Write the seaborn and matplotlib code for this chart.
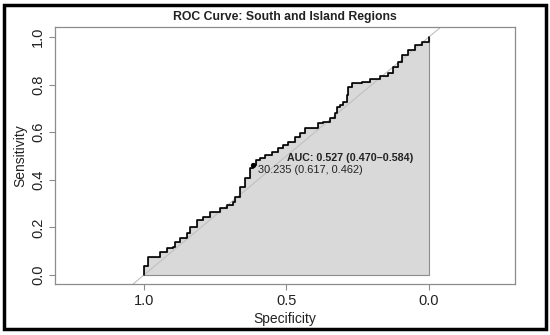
import matplotlib
matplotlib.use("Agg")
import matplotlib.pyplot as plt
import seaborn as sns
import pandas as pd
from matplotlib.patches import Rectangle

sns.set_style("white")
plt.rcParams['font.family'] = ['Liberation Sans', 'DejaVu Sans']

# ROC curve points (specificity decreasing)
specificity = [1.0, 1.0, 0.986, 0.986, 0.968, 0.944, 0.919, 0.898, 0.891, 0.874,
               0.849, 0.839, 0.814, 0.793, 0.768, 0.733, 0.709, 0.688, 0.681, 0.663,
               0.646, 0.628, 0.617, 0.607, 0.593, 0.575, 0.551, 0.530, 0.512, 0.495,
               0.470, 0.453, 0.435, 0.407, 0.389, 0.372, 0.347, 0.330, 0.323, 0.312,
               0.302, 0.288, 0.284, 0.270, 0.235, 0.207, 0.172, 0.144, 0.126, 0.109,
               0.095, 0.074, 0.049, 0.025, 0.0]
sensitivity = [0.0, 0.038, 0.038, 0.076, 0.076, 0.097, 0.113, 0.118, 0.139, 0.155,
               0.176, 0.202, 0.231, 0.244, 0.265, 0.282, 0.294, 0.307, 0.328, 0.370,
               0.408, 0.450, 0.462, 0.483, 0.492, 0.504, 0.517, 0.534, 0.546, 0.559,
               0.580, 0.597, 0.618, 0.618, 0.639, 0.643, 0.660, 0.681, 0.706, 0.714,
               0.727, 0.756, 0.790, 0.807, 0.811, 0.824, 0.836, 0.849, 0.874, 0.895,
               0.924, 0.945, 0.966, 0.979, 1.0]

best_threshold = 30.235
best_spec = 0.617
best_sens = 0.462
auc_value = 0.527
auc_ci = (0.470, 0.584)

x_ticks = [1.0, 0.5, 0.0]
y_ticks = [0.0, 0.2, 0.4, 0.6, 0.8, 1.0]

df = pd.DataFrame({"Specificity": specificity, "Sensitivity": sensitivity})

fig = plt.figure(figsize=(5.5, 3.35), dpi=100)
ax = fig.add_axes([0.1, 0.152, 0.836, 0.767])

ax.fill_between(df["Specificity"], df["Sensitivity"], 0, step="post",
                facecolor="#d9d9d9", edgecolor="#8c8c8c", linewidth=0.8, zorder=1)
ax.axline((1, 0), (0, 1), color="#c0c0c0", linewidth=0.8, zorder=2)
sns.lineplot(data=df, x="Specificity", y="Sensitivity", sort=False, estimator=None,
             drawstyle="steps-post", color="black", linewidth=1.2, ax=ax, zorder=3)
ax.plot([best_spec], [best_sens], "o", color="black", markersize=2.8, zorder=4)

ax.text(best_spec - 0.017, best_sens - 0.02,
        f"{best_threshold:.3f} ({best_spec:.3f}, {best_sens:.3f})",
        fontsize=7.9, color="#222222", ha="left", va="center", zorder=5)
ax.text(0.498, 0.49,
        f"AUC: {auc_value:.3f} ({auc_ci[0]:.3f}\u2013{auc_ci[1]:.3f})",
        fontsize=7.7, fontweight="bold", color="#222222", ha="left", va="center", zorder=5)

ax.set_xlim(1.312, -0.302)
ax.set_ylim(-0.038, 1.042)
ax.set_xticks(x_ticks)
ax.set_xticklabels([f"{v:.1f}" for v in x_ticks])
ax.set_yticks(y_ticks)
ax.set_yticklabels([f"{v:.1f}" for v in y_ticks])
plt.setp(ax.get_yticklabels(), rotation=90, va="center")
ax.tick_params(axis="both", which="both", direction="out", length=4, width=0.8,
               color="#8c8c8c", labelsize=10.5, labelcolor="#222222", pad=3,
               left=True, bottom=True)
for s in ax.spines.values():
    s.set_color("#8c8c8c")
    s.set_linewidth(0.9)

ax.set_xlabel("Specificity", fontsize=10, color="#222222", labelpad=3)
ax.set_ylabel("Sensitivity", fontsize=10, color="#222222", labelpad=3)
ax.set_title("ROC Curve: South and Island Regions", fontsize=8.8, fontweight="bold",
             color="#222222", pad=5)

fig.patches.append(Rectangle((0.008, 0.018), 0.984, 0.966, transform=fig.transFigure,
                             fill=False, edgecolor="black", linewidth=2.5))

fig.savefig("out.png", dpi=100)
